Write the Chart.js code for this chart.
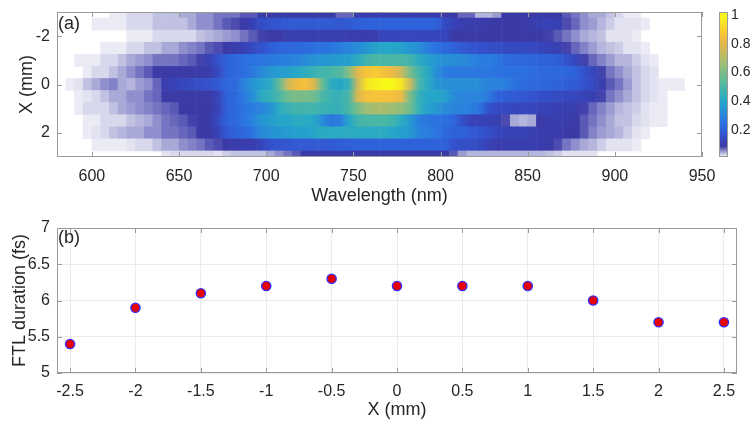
<!DOCTYPE html>
<html><head><meta charset="utf-8">
<script src="https://cdn.jsdelivr.net/npm/chart.js@4.4.1/dist/chart.umd.min.js"></script>
<style>
html,body{margin:0;padding:0;background:#fff;}
#wrap{position:relative;width:754px;height:421px;overflow:hidden;background:#fff;}
#b1{position:absolute;left:0;top:0;width:754px;height:207px;}
#b2{position:absolute;left:0;top:207px;width:754px;height:214px;}
</style></head><body>
<div id="wrap"><div id="b1"><canvas id="c1" width="754" height="207"></canvas></div><div id="b2"><canvas id="c2" width="754" height="214"></canvas></div></div>
<script>
// ---------- DATA: panel (a) spectra, 5 nm wavelength bins (bin start, nm) ----------
const wavelengths = [580,585,590,595,600,605,610,615,620,625,630,635,640,645,650,655,660,665,670,675,680,685,690,695,700,705,710,715,720,725,730,735,740,745,750,755,760,765,770,775,780,785,790,795,800,805,810,815,820,825,830,835,840,845,850,855,860,865,870,875,880,885,890,895,900,905,910,915,920,925,930,935,940,945];
const positionsA = [-3,-2.5,-2,-1.5,-1,-0.5,0,0.5,1,1.5,2,2.5,3];
const rowM3 = [null,null,null,null,null,null,.015,.015,.025,.025,.025,.035,.035,.035,.045,.045,.055,.055,.065,.065,.065,.075,.075,.09,.09,.09,.09,.09,.09,.09,.09,.09,.07,.07,.1,.1,.1,.1,.1,.1,.1,.1,.1,.1,.09,.09,.07,.07,.04,.04,.05,.09,.09,.09,.09,.09,.09,.09,.075,.065,.055,.045,.045,.035,.025,.015,.015,null,null,null,null,null,null,null];
const rowM25 = [null,null,null,null,.015,.015,.015,.015,.025,.025,.025,.035,.035,.035,.035,.045,.055,.055,.065,.075,.08,.09,.12,.15,.16,.17,.18,.18,.18,.18,.18,.18,.17,.18,.19,.2,.2,.2,.2,.2,.2,.2,.2,.2,.14,.12,.1,.1,.1,.09,.09,.09,.09,.09,.1,.11,.12,.11,.08,.07,.055,.05,.04,.03,.02,.02,.02,.015,null,null,null,null,null,null];
const rowM2 = [null,null,null,null,null,null,null,null,.015,.015,.015,.025,.025,.025,.025,.025,.035,.04,.045,.05,.055,.065,.075,.085,.09,.09,.11,.11,.11,.11,.11,.11,.11,.1,.1,.1,.1,.13,.13,.13,.13,.13,.13,.13,.13,.09,.09,.09,.09,.09,.09,.09,.09,.09,.09,.09,.085,.075,.065,.055,.045,.04,.035,.02,.02,.02,.015,null,null,null,null,null,null,null];
const rowM15 = [null,null,null,null,null,.015,.015,.015,.025,.025,.035,.035,.045,.045,.055,.06,.065,.075,.08,.09,.1,.12,.14,.16,.19,.21,.22,.22,.23,.24,.25,.26,.28,.3,.32,.35,.38,.4,.4,.38,.35,.33,.28,.25,.22,.2,.18,.17,.16,.15,.15,.14,.14,.14,.14,.13,.12,.11,.085,.07,.06,.05,.04,.035,.03,.02,.02,.015,null,null,null,null,null,null];
const rowM1 = [null,null,.015,.015,.015,.025,.025,.035,.045,.05,.055,.065,.065,.065,.07,.075,.085,.12,.16,.2,.22,.24,.25,.26,.27,.28,.29,.3,.32,.34,.35,.36,.37,.38,.42,.48,.5,.5,.5,.5,.48,.42,.38,.35,.33,.33,.32,.3,.28,.28,.26,.23,.22,.22,.21,.2,.2,.19,.16,.13,.085,.07,.06,.05,.04,.04,.03,.02,.015,null,null,null,null,null];
const rowM05 = [null,null,null,.015,.025,.025,.035,.045,.055,.065,.075,.09,.09,.09,.09,.09,.09,.1,.14,.2,.22,.24,.27,.32,.35,.37,.38,.4,.43,.46,.48,.5,.52,.62,.8,.86,.88,.85,.82,.75,.6,.48,.42,.33,.28,.27,.27,.27,.26,.26,.25,.25,.24,.24,.23,.22,.22,.22,.21,.2,.16,.13,.085,.065,.055,.045,.035,.025,.02,null,null,null,null,null];
const row0 = [null,.015,.02,.035,.045,.055,.06,.045,.04,.05,.055,.07,.1,.12,.13,.14,.15,.16,.18,.22,.22,.3,.35,.38,.42,.55,.75,.83,.85,.78,.55,.42,.4,.45,.75,.95,.98,1.0,1.0,.95,.75,.5,.42,.35,.33,.33,.33,.33,.32,.3,.3,.28,.25,.23,.22,.22,.21,.2,.19,.18,.16,.14,.1,.075,.065,.05,.035,.025,.02,.015,.015,.015,null,null];
const row05 = [null,null,.015,.02,.025,.035,.045,.045,.055,.055,.065,.07,.09,.09,.09,.09,.09,.09,.13,.2,.22,.28,.33,.42,.45,.5,.58,.6,.6,.58,.5,.46,.45,.5,.78,.85,.86,.86,.85,.82,.6,.45,.4,.4,.38,.32,.3,.3,.3,.27,.2,.19,.18,.17,.16,.15,.15,.14,.13,.13,.12,.11,.085,.065,.055,.045,.035,.025,.02,.015,null,null,null,null];
const row1 = [null,null,.015,.025,.025,.025,.035,.045,.05,.055,.06,.065,.07,.075,.09,.09,.09,.09,.12,.2,.22,.26,.28,.3,.34,.42,.46,.48,.48,.48,.46,.45,.45,.5,.6,.66,.68,.68,.66,.64,.58,.45,.38,.36,.32,.3,.3,.28,.25,.16,.14,.14,.13,.13,.13,.12,.12,.11,.11,.1,.085,.07,.06,.05,.04,.035,.03,.02,.015,.015,null,null,null,null];
const row15 = [null,null,null,.015,.015,.025,.025,.025,.035,.04,.045,.055,.065,.07,.075,.085,.09,.09,.14,.2,.22,.26,.3,.35,.37,.4,.4,.42,.42,.4,.32,.26,.28,.4,.48,.5,.5,.5,.48,.42,.36,.28,.26,.25,.24,.22,.15,.12,.12,.12,.11,.08,.045,.04,.045,.09,.1,.1,.1,.09,.075,.065,.055,.045,.035,.035,.025,.02,.015,.015,null,null,null,null];
const row2 = [null,null,null,.015,.02,.025,.035,.04,.045,.045,.055,.055,.065,.065,.07,.075,.09,.09,.12,.18,.2,.22,.26,.32,.34,.35,.37,.38,.38,.4,.42,.42,.42,.42,.42,.42,.42,.42,.4,.38,.36,.3,.28,.26,.22,.2,.2,.18,.17,.15,.13,.12,.12,.12,.11,.1,.1,.1,.09,.09,.075,.06,.05,.045,.04,.03,.02,.015,null,null,null,null,null,null];
const row25 = [null,null,null,null,.015,.015,.015,.015,.02,.025,.025,.035,.045,.045,.055,.06,.065,.075,.08,.09,.1,.1,.1,.13,.16,.17,.17,.18,.18,.18,.18,.18,.19,.19,.2,.2,.2,.2,.2,.2,.2,.2,.2,.2,.2,.16,.15,.15,.14,.12,.1,.1,.1,.1,.1,.1,.09,.08,.065,.055,.045,.04,.03,.02,.02,.02,.015,null,null,null,null,null,null,null];
const row3 = [null,null,null,null,null,null,null,null,null,null,null,null,.02,.025,.025,.025,.025,.025,.02,.03,.035,.035,.035,.035,.045,.055,.065,.075,.09,.09,.09,.09,.09,.09,.09,.09,.09,.09,.09,.09,.09,.09,.09,.09,.09,.075,.05,.04,.04,.04,.04,.04,.04,.04,.04,.04,.035,.03,.02,.02,.02,.02,null,null,null,null,null,null,null,null,null,null,null,null];
const spectraRows = [rowM3,rowM25,rowM2,rowM15,rowM1,rowM05,row0,row05,row1,row15,row2,row25,row3];

// tick labels
const wlTicks = [600,650,700,750,800,850,900,950];
const xTicksA = [-2,0,2];
const cbTicks = [0.2,0.4,0.6,0.8,1];

// ---------- DATA: panel (b) ----------
const xPosB = [-2.5,-2,-1.5,-1,-0.5,0,0.5,1,1.5,2,2.5];
const ftlDuration = [5.4,5.9,6.1,6.2,6.3,6.2,6.2,6.2,6.0,5.7,5.7];
const xTicksB = [-2.5,-2,-1.5,-1,-0.5,0,0.5,1,1.5,2,2.5];
const yTicksB = [5,5.5,6,6.5,7];

// ---------- style ----------
const FONT = "'Liberation Sans', Arial, Helvetica, sans-serif";
const TXT = '#262626';
const BOX = '#9a9a9a';
const BIN_W = 5, ROW_H = 0.5, SMOOTH_MIN = 0.085;
const cmapStops = [
 [0.012,[240,240,248]],[0.02,[226,226,241]],[0.03,[205,205,231]],[0.04,[181,181,221]],
 [0.05,[156,156,211]],[0.06,[130,130,200]],[0.07,[102,102,188]],[0.08,[75,75,176]],
 [0.09,[59,59,168]],[0.12,[55,66,182]],[0.16,[51,82,204]],[0.2,[46,98,218]],
 [0.25,[43,114,224]],[0.3,[42,132,220]],[0.35,[37,150,210]],[0.4,[38,166,200]],
 [0.45,[54,176,182]],[0.5,[74,182,166]],[0.55,[98,186,150]],[0.6,[122,188,136]],
 [0.65,[152,189,120]],[0.7,[180,188,104]],[0.75,[204,185,92]],[0.8,[226,184,76]],
 [0.85,[244,191,60]],[0.9,[248,210,46]],[0.95,[246,228,36]],[1.0,[248,248,24]]
];
function cmapRGB(v){
  if (v <= cmapStops[0][0]) return cmapStops[0][1];
  for (let i=1;i<cmapStops.length;i++){
    if (v <= cmapStops[i][0]){
      const [a,ca]=cmapStops[i-1],[b,cb]=cmapStops[i];
      const t=(v-a)/(b-a);
      return ca.map((c,k)=>Math.round(c+(cb[k]-c)*t));
    }
  }
  return cmapStops[cmapStops.length-1][1];
}
const rgbStr = c => 'rgb('+c.join(',')+')';
function cmap(v){ return rgbStr(cmapRGB(v)); }
const mix = (p,q) => p.map((c,k)=>Math.round((c+q[k])/2));

// cells built from the named arrays
const cells = [];
spectraRows.forEach((row,r)=>{
  row.forEach((v,i)=>{ if (v!==null) cells.push({x:wavelengths[i]+BIN_W/2, y:positionsA[r], v:v}); });
});

const heatmapPlugin = {
  id:'heatmap',
  beforeDatasetsDraw(chart){
    const {ctx, chartArea:a, scales:{x,y}} = chart;
    const data = chart.data.datasets[0].data;
    const lookup = new Map(data.map(c=>[c.y+'|'+c.x, c.v]));
    const ok = v => v !== undefined && v >= SMOOTH_MIN;
    ctx.save();
    ctx.beginPath(); ctx.rect(a.left,a.top,a.right-a.left,a.bottom-a.top); ctx.clip();
    data.forEach(c=>{
      const x0=x.getPixelForValue(c.x-BIN_W/2), x1=x.getPixelForValue(c.x+BIN_W/2);
      const ya=y.getPixelForValue(c.y-ROW_H/2), yb=y.getPixelForValue(c.y+ROW_H/2);
      const L = lookup.get(c.y+'|'+(c.x-BIN_W)), R = lookup.get(c.y+'|'+(c.x+BIN_W));
      const cc = cmapRGB(c.v);
      if (ok(c.v) && (ok(L) || ok(R))){
        const g = ctx.createLinearGradient(x0,0,x1,0);
        g.addColorStop(0, rgbStr(ok(L) ? mix(cmapRGB(L),cc) : cc));
        g.addColorStop(0.5, rgbStr(cc));
        g.addColorStop(1, rgbStr(ok(R) ? mix(cc,cmapRGB(R)) : cc));
        ctx.fillStyle = g;
      } else {
        ctx.fillStyle = rgbStr(cc);
      }
      ctx.fillRect(Math.min(x0,x1)-0.3, Math.min(ya,yb)-0.3, Math.abs(x1-x0)+0.6, Math.abs(yb-ya)+0.6);
    });
    ctx.restore();
  }
};

function innerTicks(chart, ids){
  const {ctx, chartArea:a} = chart;
  ctx.save(); ctx.strokeStyle=BOX; ctx.lineWidth=1; ctx.beginPath();
  ids.forEach(id=>{
    const s=chart.scales[id];
    s.ticks.forEach(t=>{
      const p=Math.round(s.getPixelForValue(t.value))+0.5;
      if (s.isHorizontal()){
        ctx.moveTo(p,a.bottom); ctx.lineTo(p,a.bottom-5);
        ctx.moveTo(p,a.top); ctx.lineTo(p,a.top+5);
      } else {
        ctx.moveTo(a.left,p); ctx.lineTo(a.left+5,p);
        ctx.moveTo(a.right,p); ctx.lineTo(a.right-5,p);
      }
    });
  });
  ctx.stroke();
  ctx.strokeRect(Math.round(a.left)+0.5, Math.round(a.top)+0.5, Math.round(a.right-a.left)-1, Math.round(a.bottom-a.top)-1);
  ctx.restore();
}

const frameA = {
  id:'frameA',
  afterDatasetsDraw(chart){
    innerTicks(chart,['x','y']);
    const {ctx, chartArea:a} = chart;
    const cb = chart.scales.cb;
    const bx = a.right+18, bw = 7;
    ctx.save();
    for (let py=Math.floor(cb.top); py<Math.ceil(cb.bottom); py++){
      ctx.fillStyle = cmap(cb.getValueForPixel(py+0.5));
      ctx.fillRect(bx, py, bw, 1);
    }
    ctx.strokeStyle=BOX; ctx.lineWidth=1;
    ctx.strokeRect(bx-0.5, Math.round(cb.top)+0.5, bw+1, Math.round(cb.bottom-cb.top)-1);
    ctx.fillStyle=TXT; ctx.font="18px "+FONT; ctx.textBaseline='middle'; ctx.textAlign='left';
    ctx.fillText('(a)', a.left+1, a.top+12);
    ctx.restore();
  }
};

const frameB = {
  id:'frameB',
  beforeDatasetsDraw(chart){
    innerTicks(chart,['x','y']);
    const {ctx, chartArea:a} = chart;
    ctx.save();
    ctx.fillStyle=TXT; ctx.font="18px "+FONT; ctx.textBaseline='middle'; ctx.textAlign='left';
    ctx.fillText('(b)', a.left+1, a.top+10);
    ctx.restore();
  }
};

const tickFont = {family:FONT, size:16};
const titleFont = {family:FONT, size:18};
const noPad = s=>{ s.paddingTop=0; s.paddingBottom=0; };

new Chart(document.getElementById('c1'), {
  type:'scatter',
  data:{datasets:[{label:'spectrum', data:cells, pointRadius:0, pointHoverRadius:0}]},
  options:{
    responsive:false, animation:false, devicePixelRatio:1, events:[],
    layout:{padding:{top:12,left:0,right:0,bottom:0}},
    plugins:{legend:{display:false}, tooltip:{enabled:false}},
    scales:{
      x:{type:'linear', position:'bottom', min:580, max:950,
        afterBuildTicks:s=>{s.ticks=wlTicks.map(v=>({value:v}));},
        afterFit:s=>{s.height=50;},
        grid:{display:false, drawTicks:false}, border:{display:false},
        ticks:{padding:10, color:TXT, font:tickFont, maxRotation:0, autoSkip:false, callback:v=>String(v)},
        title:{display:true, text:'Wavelength (nm)', color:TXT, font:titleFont, padding:{top:0,bottom:0}}},
      y:{type:'linear', position:'left', min:-3, max:3, reverse:true,
        afterBuildTicks:s=>{s.ticks=xTicksA.map(v=>({value:v}));},
        afterFit:s=>{s.width=57; noPad(s);},
        grid:{display:false, drawTicks:false}, border:{display:false},
        ticks:{padding:7, color:TXT, font:tickFont, autoSkip:false, callback:v=>String(v)},
        title:{display:true, text:'X (mm)', color:TXT, font:titleFont, padding:{top:16,bottom:0}}},
      cb:{type:'linear', position:'right', min:0.012, max:1.02,
        afterBuildTicks:s=>{s.ticks=cbTicks.map(v=>({value:v}));},
        afterFit:s=>{s.width=52; noPad(s);},
        grid:{display:false, drawTicks:false}, border:{display:false},
        ticks:{padding:29, color:TXT, font:{family:FONT,size:14}, autoSkip:false, callback:v=>String(v)}}
    }
  },
  plugins:[heatmapPlugin, frameA]
});

new Chart(document.getElementById('c2'), {
  type:'scatter',
  data:{datasets:[{label:'FTL duration', data:xPosB.map((x,i)=>({x:x, y:ftlDuration[i]})),
    pointRadius:4.6, pointHoverRadius:4.6, pointBackgroundColor:'#e60000', pointBorderColor:'#3030ff', pointBorderWidth:1.4, showLine:false}]},
  options:{
    responsive:false, animation:false, devicePixelRatio:1, events:[],
    layout:{padding:{top:21,left:0,right:17,bottom:0}},
    plugins:{legend:{display:false}, tooltip:{enabled:false}},
    scales:{
      x:{type:'linear', position:'bottom', min:-2.6, max:2.6,
        afterBuildTicks:s=>{s.ticks=xTicksB.map(v=>({value:v}));},
        afterFit:s=>{s.height=48;},
        grid:{display:true, color:'#ebebeb', drawTicks:false}, border:{display:false},
        ticks:{padding:9, color:TXT, font:tickFont, maxRotation:0, autoSkip:false, callback:v=>String(v)},
        title:{display:true, text:'X (mm)', color:TXT, font:titleFont, padding:{top:0,bottom:0}}},
      y:{type:'linear', position:'left', min:5, max:7,
        afterBuildTicks:s=>{s.ticks=yTicksB.map(v=>({value:v}));},
        afterFit:s=>{s.width=57; noPad(s);},
        grid:{display:true, color:'#ebebeb', drawTicks:false}, border:{display:false},
        ticks:{padding:7, color:TXT, font:tickFont, autoSkip:false, callback:v=>String(v)},
        title:{display:true, text:'FTL duration (fs)', color:TXT, font:titleFont, padding:{top:9,bottom:0}}}
    }
  },
  plugins:[frameB]
});
</script>
</body></html>
